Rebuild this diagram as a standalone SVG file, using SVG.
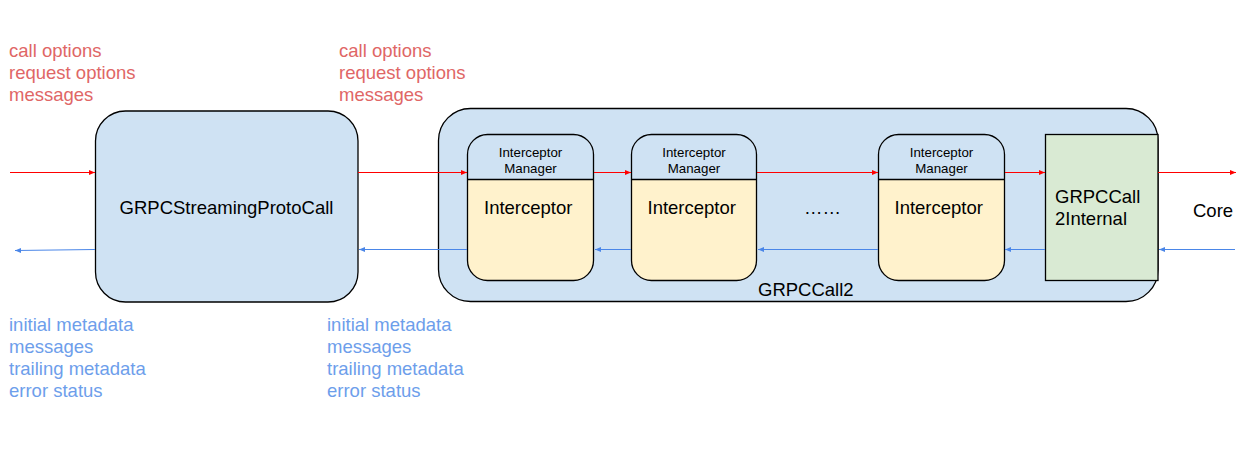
<svg xmlns="http://www.w3.org/2000/svg" width="1246" height="465" viewBox="0 0 1246 465">
<style>
text{font-family:"Liberation Sans",Arial,sans-serif;fill:#000}
.lbl{font-size:18.5px}
.sm{font-size:13.3px;text-anchor:middle}
.red{fill:#e06666;font-size:18.5px}
.blue{fill:#6d9eeb;font-size:18.5px}
.box{fill:#cfe2f3;stroke:#000;stroke-width:1.3}
.body{fill:#fff2cc;stroke:none}
.hdr{fill:#cfe2f3;stroke:none}
.out{fill:none;stroke:#000;stroke-width:1.3}
.r{stroke:#ff0000;stroke-width:1.2;fill:none;marker-end:url(#ar)}
.b{stroke:#4a86e8;stroke-width:1.2;fill:none;marker-end:url(#ab)}
</style>
<defs>
<marker id="ar" markerUnits="userSpaceOnUse" markerWidth="8" markerHeight="6" refX="6" refY="3" orient="auto"><path d="M0,0.5 L6,3 L0,5.5 Z" fill="#ff0000"/></marker>
<marker id="ab" markerUnits="userSpaceOnUse" markerWidth="8" markerHeight="6" refX="6" refY="3" orient="auto"><path d="M0,0.5 L6,3 L0,5.5 Z" fill="#4a86e8"/></marker>
</defs>

<g id="labels-top">
<text class="red" x="9" y="57">call options</text>
<text class="red" x="9" y="79">request options</text>
<text class="red" x="9" y="101">messages</text>
<text class="red" x="339" y="57">call options</text>
<text class="red" x="339" y="79">request options</text>
<text class="red" x="339" y="101">messages</text>
</g>
<g id="labels-bottom">
<text class="blue" x="9" y="331">initial metadata</text>
<text class="blue" x="9" y="353">messages</text>
<text class="blue" x="9" y="375">trailing metadata</text>
<text class="blue" x="9" y="397">error status</text>
<text class="blue" x="327" y="331">initial metadata</text>
<text class="blue" x="327" y="353">messages</text>
<text class="blue" x="327" y="375">trailing metadata</text>
<text class="blue" x="327" y="397">error status</text>
</g>

<g id="streaming-proto-call">
<rect class="box" x="95.5" y="111" width="262.5" height="191" rx="30" ry="30"/>
<text class="lbl" x="226.5" y="214" text-anchor="middle">GRPCStreamingProtoCall</text>
</g>

<g id="grpccall2">
<rect class="box" x="438.5" y="108.5" width="719.5" height="193" rx="32" ry="32"/>
<text class="lbl" x="758" y="296">GRPCCall2</text>
</g>

<g id="interceptor-1">
<rect class="body" x="467.5" y="134.5" width="126" height="146" rx="20" ry="20"/>
<path class="hdr" d="M467.5,179.5 V154.5 A20,20 0 0 1 487.5,134.5 H573.5 A20,20 0 0 1 593.5,154.5 V179.5 Z"/>
<rect class="out" x="467.5" y="134.5" width="126" height="146" rx="20" ry="20"/>
<line x1="467.5" y1="179.5" x2="593.5" y2="179.5" stroke="#000" stroke-width="1.3"/>
<text class="sm" x="530.5" y="157">Interceptor</text>
<text class="sm" x="530.5" y="173">Manager</text>
<text class="lbl" x="484" y="214">Interceptor</text>
</g>

<g id="interceptor-2">
<rect class="body" x="631.5" y="134.5" width="125" height="146" rx="20" ry="20"/>
<path class="hdr" d="M631.5,179.5 V154.5 A20,20 0 0 1 651.5,134.5 H736.5 A20,20 0 0 1 756.5,154.5 V179.5 Z"/>
<rect class="out" x="631.5" y="134.5" width="125" height="146" rx="20" ry="20"/>
<line x1="631.5" y1="179.5" x2="756.5" y2="179.5" stroke="#000" stroke-width="1.3"/>
<text class="sm" x="694" y="157">Interceptor</text>
<text class="sm" x="694" y="173">Manager</text>
<text class="lbl" x="647.5" y="214">Interceptor</text>
</g>

<g id="ellipsis">
<text class="lbl" x="804" y="214">……</text>
</g>

<g id="interceptor-3">
<rect class="body" x="878.5" y="134.5" width="126" height="146" rx="20" ry="20"/>
<path class="hdr" d="M878.5,179.5 V154.5 A20,20 0 0 1 898.5,134.5 H984.5 A20,20 0 0 1 1004.5,154.5 V179.5 Z"/>
<rect class="out" x="878.5" y="134.5" width="126" height="146" rx="20" ry="20"/>
<line x1="878.5" y1="179.5" x2="1004.5" y2="179.5" stroke="#000" stroke-width="1.3"/>
<text class="sm" x="941.5" y="157">Interceptor</text>
<text class="sm" x="941.5" y="173">Manager</text>
<text class="lbl" x="894.5" y="214">Interceptor</text>
</g>

<g id="grpccall2-internal">
<rect x="1045.5" y="134.5" width="112.5" height="146" fill="#d9ead3" stroke="#000" stroke-width="1.3"/>
<text class="lbl" x="1055" y="203">GRPCCall</text>
<text class="lbl" x="1055" y="225">2Internal</text>
</g>

<g id="core">
<text class="lbl" x="1193" y="217">Core</text>
</g>

<g id="connectors">
<line class="r" x1="10" y1="172.5" x2="95" y2="172.5"/>
<line class="r" x1="358" y1="172.5" x2="467" y2="172.5"/>
<line class="r" x1="594" y1="172.5" x2="631" y2="172.5"/>
<line class="r" x1="757" y1="172.5" x2="878" y2="172.5"/>
<line class="r" x1="1005" y1="172.5" x2="1045" y2="172.5"/>
<line class="r" x1="1158" y1="172.5" x2="1236" y2="172.5"/>
<line class="b" x1="95" y1="249.5" x2="15" y2="250.5"/>
<line class="b" x1="467" y1="249.5" x2="359" y2="249.5"/>
<line class="b" x1="631" y1="249.5" x2="595" y2="249.5"/>
<line class="b" x1="878" y1="249.5" x2="758" y2="249.5"/>
<line class="b" x1="1045" y1="249.5" x2="1005" y2="249.5"/>
<line class="b" x1="1235" y1="249.5" x2="1159" y2="249.5"/>
</g>
</svg>
